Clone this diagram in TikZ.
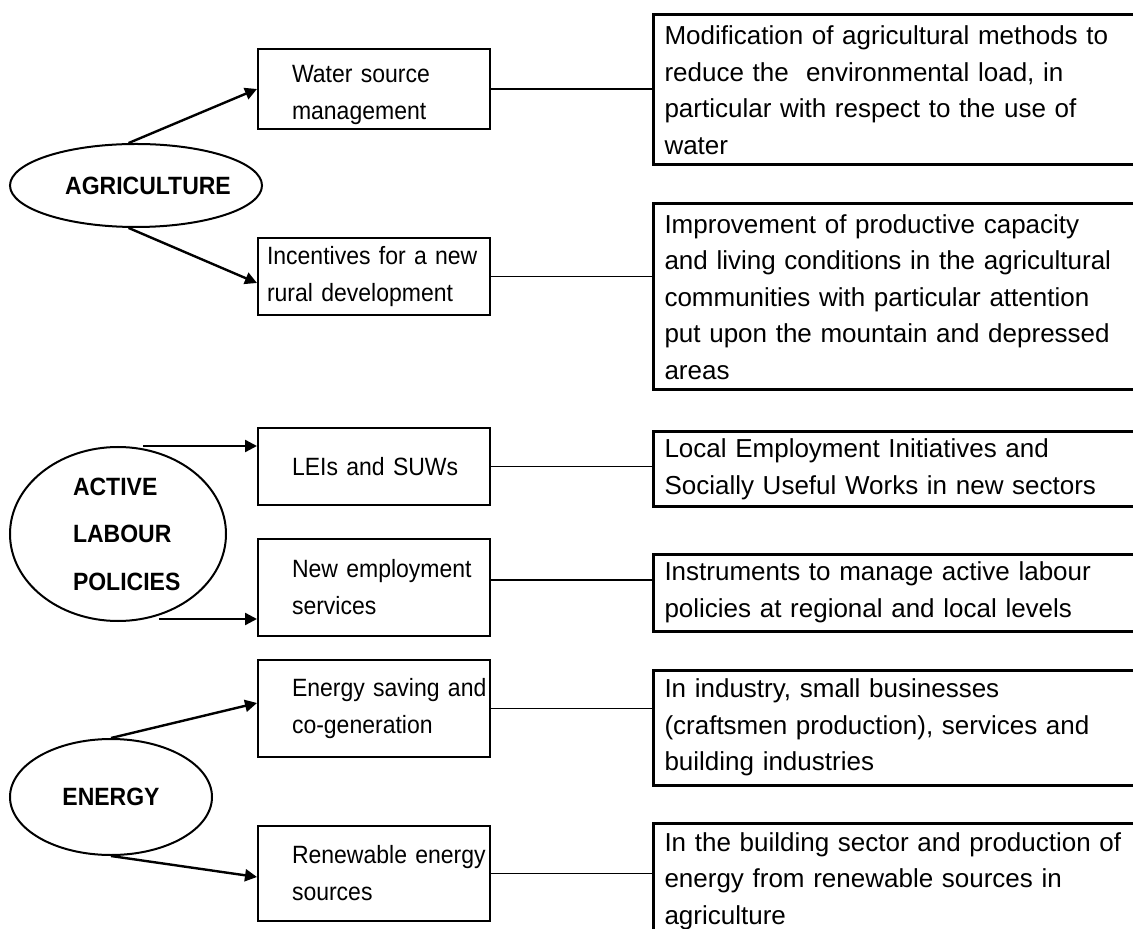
\documentclass[tikz,border=0pt]{standalone}
\usepackage{fontspec}
\setmainfont{Liberation Sans}
\newfontfamily\narrowsans{Liberation Sans}[FakeStretch=0.92]
\usetikzlibrary{arrows.meta, positioning, shapes.geometric}

\begin{document}
\begin{tikzpicture}[x=0.5pt, y=-0.5pt, >={Triangle[length=6pt, width=6pt]},
    topic/.style={draw, ellipse, line width=1pt, inner sep=0pt,
        font=\narrowsans\bfseries\fontsize{12.5}{23.75}\selectfont},
    measure/.style={draw, line width=1pt, text width=116pt, inner xsep=0pt,
        inner ysep=2pt, align=left, font=\narrowsans\fontsize{12.5}{18.5}\selectfont},
    aim/.style={draw, line width=1.5pt, anchor=west, text width=232pt,
        inner xsep=5.5pt, inner ysep=2pt, align=left,
        font=\fontsize{13}{18.25}\selectfont},
    indent/.style={execute at begin node={\leftskip=#1\relax}},
    link/.style={line width=0.7pt},
    arrow/.style={->, line width=1.2pt}]
        \useasboundingbox (0,0) rectangle (1133,929);
        \clip (0,0) rectangle (1133,929);

        % Agriculture
        \node [topic, minimum width=126pt, minimum height=41.5pt] (agr) at (136,185.5)
            {\hspace*{6pt}AGRICULTURE\hspace*{-6pt}};
        \node [measure, indent=17pt, minimum height=39pt] (water) at (374,89)
            {\rule{0pt}{15pt}Water source\\management};
        \node [measure, indent=4.5pt, minimum height=38.5pt] (rural) at (374,276.5)
            {Incentives for a new\\rural development};
        \node [aim, minimum height=75pt] (wateraim) at (652,90)
            {Modification of agricultural methods to\\reduce the~ environmental load, in\\particular with respect to the use of\\water};
        \node [aim, minimum height=93pt] (ruralaim) at (652,297)
            {Improvement of productive capacity\\and living conditions in the agricultural\\communities with particular attention\\put upon the mountain and depressed\\areas};
        \draw [arrow] (agr.100) -- (water.west);
        \draw [arrow] (agr.260) -- ([yshift=-3.25pt]rural.west);
        \draw [link] (water.east) -- (water.east -| wateraim.west);
        \draw [link] (rural.east) -- (rural.east -| ruralaim.west);

        % Active labour policies
        \node [topic, minimum width=108pt, minimum height=87pt, text width=70pt,
            align=left, indent=12.5pt] (alp) at (118,534) {ACTIVE\\LABOUR\\POLICIES};
        \node [measure, indent=17pt, minimum height=38.5pt] (lei) at (374,466.5)
            {LEIs and SUWs};
        \node [measure, indent=17pt, minimum height=48.5pt] (emp) at (374,587.5)
            {New employment\\services};
        \node [aim, minimum height=37.5pt] (leiaim) at (652,469.5)
            {Local Employment Initiatives and\\Socially Useful Works in new sectors};
        \node [aim, minimum height=38.5pt] (empaim) at (652,592.5)
            {Instruments to manage active labour\\policies at regional and local levels};
        \coordinate (alptop) at ([xshift=12.5pt]alp.north);
        \coordinate (alpbot) at ([xshift=20.5pt, yshift=1.5pt]alp.south);
        \draw [arrow] (alptop) -- (alptop -| lei.west);
        \draw [arrow] (alpbot) -- (alpbot -| emp.west);
        \draw [link] (lei.east) -- (lei.east -| leiaim.west);
        \draw [link] ([yshift=3.75pt]emp.east) -- ([yshift=3.75pt]emp.east -| empaim.west);

        % Energy
        \node [topic, minimum width=101pt, minimum height=58pt] (en) at (111,797) {ENERGY};
        \node [measure, indent=17pt, minimum height=48.5pt] (esave) at (374,708.5)
            {Energy saving and\\co-generation};
        \node [measure, indent=17pt, minimum height=47.5pt] (renew) at (374,873.5)
            {Renewable energy\\sources};
        \node [aim, minimum height=57.5pt] (esaveaim) at (652,727.5)
            {In industry, small businesses\\(craftsmen production), services and\\building industries};
        \node [aim, minimum height=58pt] (renewaim) at (652,881)
            {In the building sector and production of\\energy from renewable sources in\\agriculture};
        \draw [arrow] (en.north) -- ([yshift=2.75pt]esave.west);
        \draw [arrow] (en.south) -- ([yshift=-1.75pt]renew.west);
        \draw [link] (esave.east) -- (esave.east -| esaveaim.west);
        \draw [link] (renew.east) -- (renew.east -| renewaim.west);
    \end{tikzpicture}
\end{document}
